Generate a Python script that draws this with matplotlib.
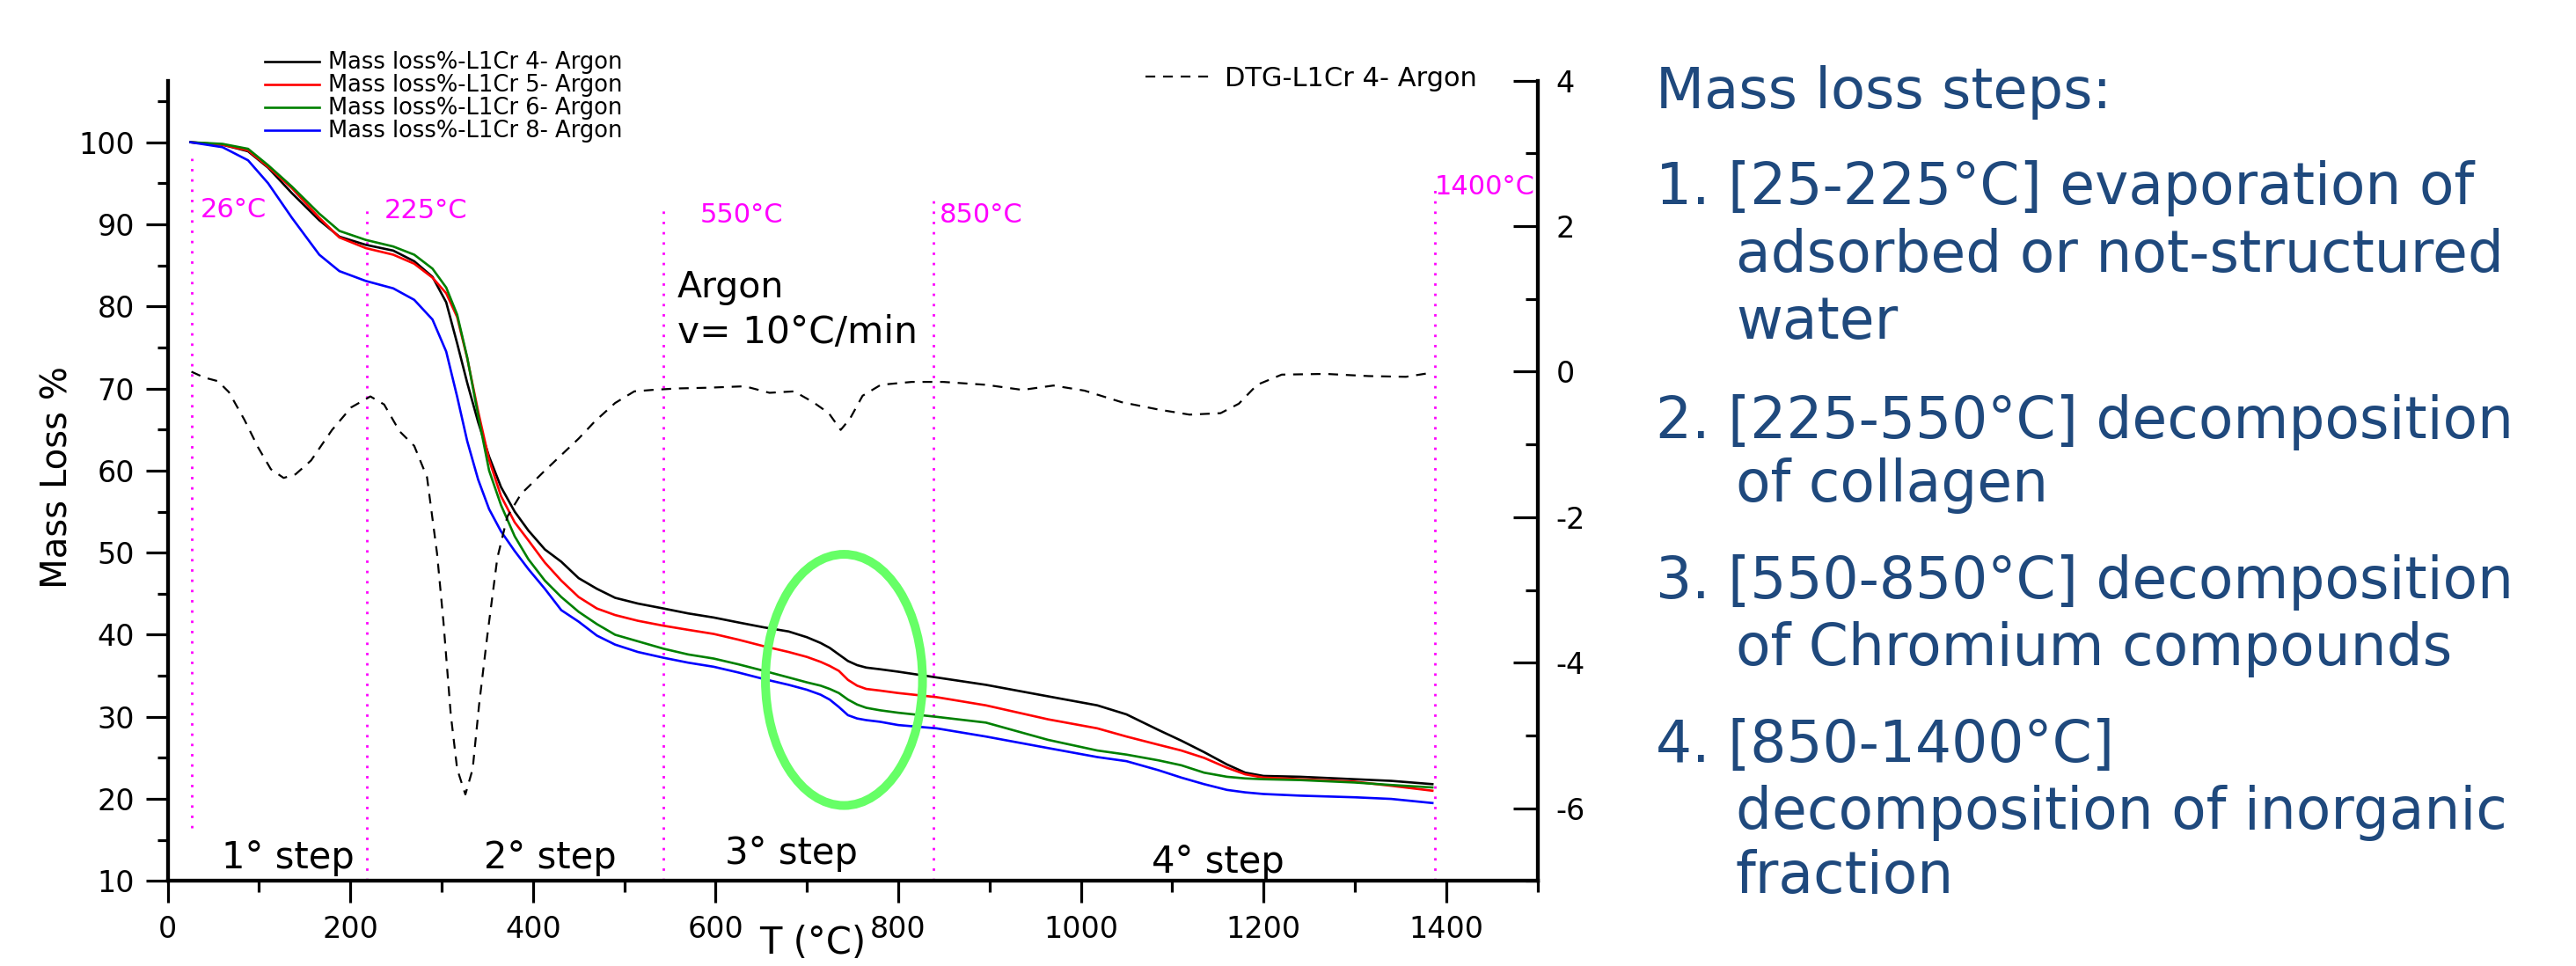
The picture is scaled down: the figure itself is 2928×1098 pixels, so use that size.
import matplotlib
matplotlib.use('Agg')
import matplotlib.pyplot as plt
from matplotlib.patches import Ellipse
from matplotlib.ticker import MultipleLocator

plt.rcParams['font.family'] = ['DejaVu Sans']
plt.rcParams['axes.unicode_minus'] = False

# ---------------- data ----------------
temp = [25, 60, 88, 110, 136, 166, 188, 217, 247, 270, 290, 305, 317, 328, 340, 352, 365,
        380, 395, 413, 431, 450, 470, 490, 515, 543, 570, 598, 625, 653, 680, 700, 715,
        725, 735, 745, 755, 765, 780, 800, 842, 896, 964, 1018, 1050, 1085, 1110, 1135,
        1160, 1180, 1200, 1240, 1300, 1340, 1385]

mass_cr4 = [100.0, 99.7, 98.9, 96.9, 93.8, 90.5, 88.5, 87.5, 86.8, 85.5, 83.6, 80.5, 75.5,
            70.7, 65.9, 61.7, 58.0, 55.0, 52.7, 50.4, 48.9, 46.9, 45.6, 44.5, 43.8, 43.2,
            42.6, 42.1, 41.5, 40.9, 40.4, 39.7, 39.0, 38.4, 37.6, 36.8, 36.3, 36.0, 35.8,
            35.5, 34.8, 33.9, 32.5, 31.4, 30.3, 28.4, 27.1, 25.7, 24.2, 23.2, 22.8, 22.7,
            22.4, 22.2, 21.8]
mass_cr5 = [100.0, 99.7, 99.0, 97.0, 94.4, 90.8, 88.4, 87.1, 86.3, 85.2, 83.5, 81.6, 78.7,
            73.7, 67.2, 61.3, 56.9, 53.7, 51.5, 48.8, 46.6, 44.6, 43.2, 42.4, 41.7, 41.1,
            40.6, 40.1, 39.4, 38.6, 37.9, 37.3, 36.7, 36.2, 35.6, 34.5, 33.8, 33.4, 33.2,
            32.9, 32.4, 31.4, 29.7, 28.6, 27.6, 26.6, 25.9, 25.0, 23.8, 23.0, 22.6, 22.4,
            22.1, 21.6, 21.0]
mass_cr6 = [100.0, 99.8, 99.2, 97.2, 94.6, 91.3, 89.2, 88.1, 87.3, 86.3, 84.6, 82.3, 79.0,
            73.8, 66.7, 60.0, 55.8, 52.0, 49.2, 46.6, 44.6, 42.8, 41.3, 40.0, 39.2, 38.3,
            37.6, 37.1, 36.4, 35.6, 34.8, 34.2, 33.8, 33.4, 32.9, 32.1, 31.5, 31.1, 30.8,
            30.5, 30.0, 29.3, 27.2, 25.9, 25.4, 24.7, 24.1, 23.2, 22.7, 22.5, 22.4, 22.3,
            22.0, 21.7, 21.4]
mass_cr8 = [100.0, 99.4, 97.8, 95.0, 90.8, 86.3, 84.3, 83.1, 82.2, 80.8, 78.4, 74.5, 69.0,
            63.6, 58.9, 55.3, 52.6, 50.2, 48.0, 45.6, 43.0, 41.6, 39.9, 38.8, 37.9, 37.2,
            36.6, 36.1, 35.4, 34.6, 33.9, 33.3, 32.7, 32.1, 31.2, 30.2, 29.8, 29.6, 29.4,
            29.0, 28.6, 27.6, 26.2, 25.1, 24.6, 23.5, 22.6, 21.8, 21.1, 20.8, 20.6, 20.4,
            20.2, 20.0, 19.5]

dtg_temp = [26, 40, 55, 67, 84, 99, 113, 127, 140, 157, 180, 201, 222, 237, 254, 270, 284,
            295, 302, 310, 317, 326, 334, 341, 350, 361, 372, 387, 413, 450, 468, 490, 511,
            531, 558, 592, 632, 659, 686, 707, 724, 737, 747, 761, 781, 815, 849, 896, 936,
            970, 1004, 1045, 1085, 1119, 1153, 1173, 1193, 1220, 1268, 1315, 1356, 1386]
dtg_cr4 = [0.0, -0.08, -0.13, -0.28, -0.66, -1.04, -1.34, -1.46, -1.41, -1.22, -0.80, -0.49,
           -0.34, -0.45, -0.82, -1.02, -1.45, -2.50, -3.44, -4.71, -5.46, -5.81, -5.46, -4.58,
           -3.63, -2.56, -1.99, -1.68, -1.36, -0.92, -0.68, -0.43, -0.27, -0.25, -0.23, -0.22,
           -0.20, -0.29, -0.27, -0.42, -0.57, -0.80, -0.65, -0.33, -0.18, -0.14, -0.14, -0.18,
           -0.25, -0.19, -0.26, -0.42, -0.52, -0.59, -0.57, -0.44, -0.18, -0.04, -0.03, -0.06,
           -0.07, -0.01]

mass_labels = ['Mass loss%-L1Cr 4- Argon', 'Mass loss%-L1Cr 5- Argon',
               'Mass loss%-L1Cr 6- Argon', 'Mass loss%-L1Cr 8- Argon']
dtg_label = 'DTG-L1Cr 4- Argon'

boundary_temp = [26, 218, 543, 839, 1388]
boundary_top = [98.0, 92.3, 92.4, 92.9, 94.4]
boundary_bottom = [16.5, 10.0, 10.0, 10.0, 10.0]
boundary_text = ['26°C', '225°C', '550°C', '850°C', '1400°C']

step_names = ['1° step', '2° step', '3° step', '4° step']

notes_title = 'Mass loss steps:'
notes_lines = ['1. [25-225°C] evaporation of', 'adsorbed or not-structured', 'water',
               '2. [225-550°C] decomposition', 'of collagen',
               '3. [550-850°C] decomposition', 'of Chromium compounds',
               '4. [850-1400°C]', 'decomposition of inorganic', 'fraction']

# ---------------- figure ----------------
W, H = 2928, 1098
fig = plt.figure(figsize=(W / 100, H / 100), dpi=100)
ax = fig.add_axes([190.6 / W, 1 - 1001.4 / H, (1747.5 - 190.6) / W, (1001.4 - 91.7) / H])
ax2 = ax.twinx()

colors = ['#000000', '#ff0000', '#008000', '#0000ff']
handles = []
for vals, c, lab in zip([mass_cr4, mass_cr5, mass_cr6, mass_cr8], colors, mass_labels):
    h, = ax.plot(temp, vals, color=c, lw=1.9, label=lab, zorder=3)
    handles.append(h)

dtg_line, = ax2.plot(dtg_temp, dtg_cr4, color='black', lw=1.6,
                     linestyle=(0, (5, 4)), label=dtg_label)

# boundary dotted lines and labels
for t, top, bot in zip(boundary_temp, boundary_top, boundary_bottom):
    ax.plot([t, t], [bot, top], color='#ff00ff', lw=2.0, linestyle=(0, (1, 3.2)), zorder=2)

label_pos = [(36, 90.85), (237, 90.75), (583, 90.2), (845, 90.2), (1387, 93.6)]
for (x, y), s in zip(label_pos, boundary_text):
    ax.text(x, y, s, color='#ff00ff', fontsize=22, va='baseline', ha='left')

step_pos = [(132, 11.58), (419, 11.58), (683, 12.11), (1150, 11.04)]
for (x, y), s in zip(step_pos, step_names):
    ax.text(x, y, s, fontsize=30, va='baseline', ha='center')

ax.text(558, 81.1, 'Argon', fontsize=29.5, va='baseline', ha='left')
ax.text(558, 75.5, 'v= 10°C/min', fontsize=30.5, va='baseline', ha='left')

ax.add_patch(Ellipse((740.6, 34.5), 172, 30.6, fill=False, edgecolor='#66ff66',
                     lw=7.2, zorder=6))

# axes limits and ticks
ax.set_xlim(0, 1500)
ax.set_ylim(10, 107.5)
ax2.set_ylim(-7, 4)

ax.xaxis.set_major_locator(MultipleLocator(200))
ax.xaxis.set_minor_locator(MultipleLocator(100))
ax.yaxis.set_major_locator(MultipleLocator(10))
ax.yaxis.set_minor_locator(MultipleLocator(5))
ax2.yaxis.set_major_locator(MultipleLocator(2))
ax2.yaxis.set_minor_locator(MultipleLocator(1))

ax.tick_params(axis='both', which='major', direction='out', length=18, width=2.3,
               labelsize=24, pad=9)
ax.tick_params(axis='both', which='minor', direction='out', length=9, width=2.3)
ax.tick_params(axis='x', which='major', pad=10)
ax2.tick_params(axis='y', which='major', direction='in', length=20, width=2.3,
                labelsize=24, pad=15)
ax2.tick_params(axis='y', which='minor', direction='in', length=10, width=2.3)

for side in ['top']:
    ax.spines[side].set_visible(False)
for side in ['top', 'left', 'bottom']:
    ax2.spines[side].set_visible(False)
for sp in [ax.spines['left'], ax.spines['bottom'], ax2.spines['right']]:
    sp.set_linewidth(3.1)

ax.set_xlabel('T (°C)', fontsize=30)
ax.xaxis.set_label_coords(0.471, -0.0545)
ax.set_ylabel('Mass Loss %', fontsize=29)
ax.yaxis.label.set_verticalalignment('center')
ax.yaxis.set_label_coords(-0.0805, 0.504)

# legends
leg1 = ax.legend(handles=handles, loc='upper left', bbox_to_anchor=(301 / W, 1 - 58.5 / H),
                 bbox_transform=fig.transFigure, frameon=False, fontsize=18.5,
                 labelspacing=0.0, handlelength=2.4, handletextpad=0.4, borderpad=0,
                 borderaxespad=0)
leg2 = ax2.legend(handles=[dtg_line], loc='upper left',
                  bbox_to_anchor=(1301.5 / W, 1 - 74.5 / H),
                  bbox_transform=fig.transFigure, frameon=False, fontsize=22,
                  handlelength=2.6, handletextpad=0.35, borderpad=0, borderaxespad=0)

# notes on the right
note_color = '#1f497d'
fig.text(1882 / W, 1 - 122.9 / H, notes_title, fontsize=46, color=note_color,
         va='baseline', ha='left')
note_x = [1882, 1973, 1973, 1882, 1973, 1882, 1973, 1882, 1973, 1973]
note_y = [232.3, 308.6, 384.8, 497.6, 570.5, 680, 756, 865.6, 941.9, 1014.8]
for x, y, s in zip(note_x, note_y, notes_lines):
    fig.text(x / W, 1 - y / H, s, fontsize=46.5, color=note_color, va='baseline', ha='left')

fig.savefig('out.png', dpi=100)
